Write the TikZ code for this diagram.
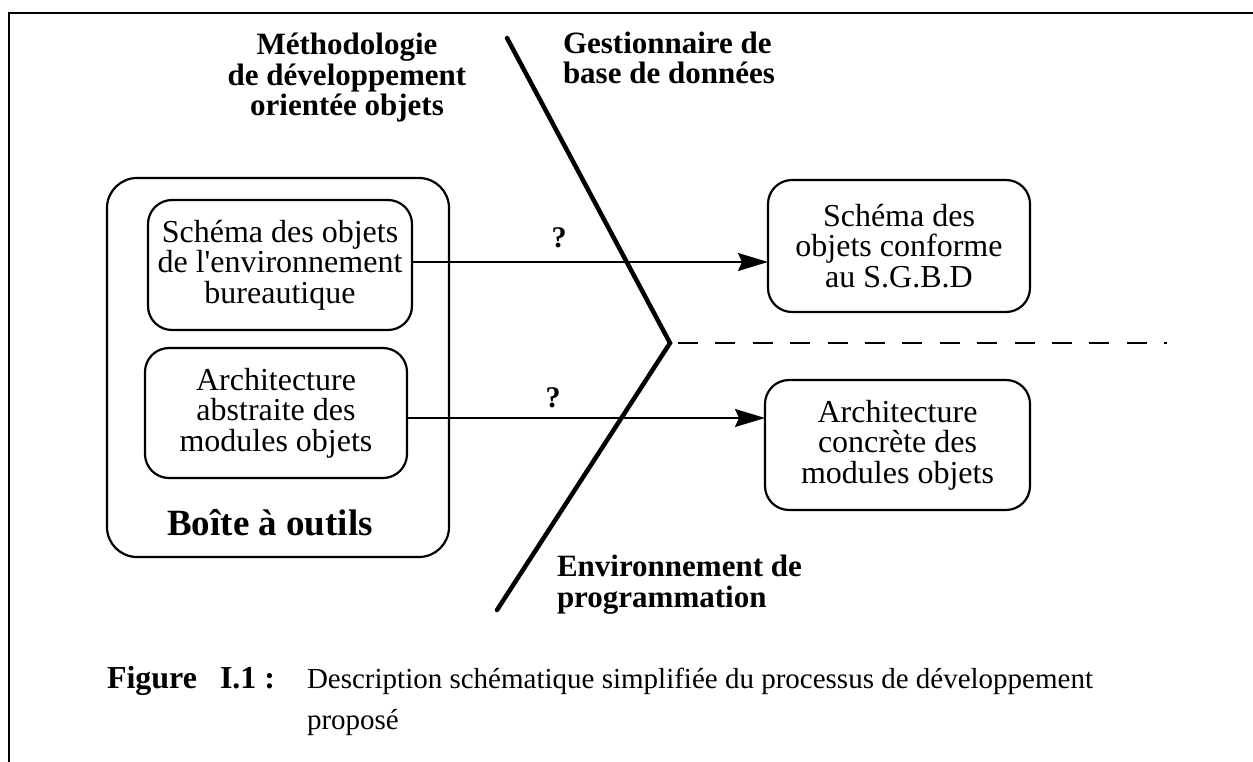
\documentclass[tikz,border=0pt]{standalone}
\usepackage{fontspec}
\setmainfont{Liberation Serif}
\usetikzlibrary{arrows.meta}

\begin{document}
\begin{tikzpicture}[x=1pt,y=-1pt,
  every node/.style={inner sep=0pt, outer sep=0pt},
  frameline/.style={line width=2.4pt},
  toolbox/.style={draw, line width=2.2pt, rounded corners=30pt},
  objbox/.style={draw, line width=2.2pt, rounded corners=24pt, align=center,
    font=\fontsize{32}{30.5}\selectfont},
  heading/.style={font=\bfseries\fontsize{31}{30.5}\selectfont},
  flow/.style={line width=1.8pt, -{Stealth[length=30pt,width=18pt,inset=4pt]}},
  qmark/.style={font=\bfseries\fontsize{30}{30}\selectfont},
  divider/.style={line width=4.5pt, line cap=round, line join=miter},
  split/.style={line width=2.4pt, dash pattern=on 20pt off 17.4pt},
  figfont/.style={font=\bfseries\fontsize{32}{32}\selectfont},
]
\useasboundingbox (0,0) rectangle (1253,762);

% page frame (top and left rules)
\draw[frameline] (1253,13) -- (9,13) -- (9,762);

% toolbox with its two components
\node[toolbox, minimum width=342pt, minimum height=379pt] (tools) at (278,367.5) {};
\node[font=\bfseries\fontsize{37}{37}\selectfont, anchor=base] (toolsname) at (270,535) {Boîte à outils};
\node[objbox, minimum width=264pt, minimum height=130pt] (envschema) at (280,265)
  {Schéma des objets\\de l\textquotesingle environnement\\bureautique};
\node[objbox, minimum width=262pt, minimum height=130pt] (absarch) at (276,413)
  {Architecture\\abstraite des\\modules objets};

% target artefacts
\node[objbox, minimum width=262pt, minimum height=132pt] (dbschema) at (899,246)
  {Schéma des\\objets conforme\\au S.G.B.D};
\node[objbox, minimum width=265pt, minimum height=130pt] (concarch) at (897.5,445)
  {Architecture\\concrète des\\modules objets};

% domain headings (base anchor sits on the last line)
\node[heading, align=center, anchor=base] (method) at (347,116)
  {Méthodologie\\de développement\\orientée objets};
\node[heading, align=left, anchor=base west] (dbms) at (563,84)
  {Gestionnaire de\\base de données};
\node[heading, align=left, anchor=base west] (progenv) at (557,607)
  {Environnement de\\programmation};

% dividing chevron and dashed separator
\coordinate (ftop) at (507,38);
\coordinate (fvertex) at (670,343);
\coordinate (fbottom) at (497,610);
\coordinate (splitend) at (1167,343);
\draw[divider] (ftop) -- (fvertex) -- (fbottom);
\draw[split] ([xshift=8pt]fvertex) -- (splitend);

% open transitions
\draw[flow] ([yshift=3pt]envschema.east) -- ([yshift=3pt]envschema.east -| dbschema.west)
  node[qmark, pos=0.413, above=14pt] (q1) {?};
\draw[flow] ([yshift=-5pt]absarch.east) -- ([yshift=-5pt]absarch.east -| concarch.west)
  node[qmark, pos=0.408, above=10pt] (q2) {?};

% caption
\node[figfont, anchor=base west] (figlabel) at (107,688) {Figure};
\node[figfont, anchor=base west] (fignum) at (220,688) {I.1 :};
\node[font=\fontsize{29}{41}\selectfont, align=left, anchor=base west] (figtext) at (307,729)
  {Description schématique simplifiée du processus de développement\\proposé};
\end{tikzpicture}
\end{document}
